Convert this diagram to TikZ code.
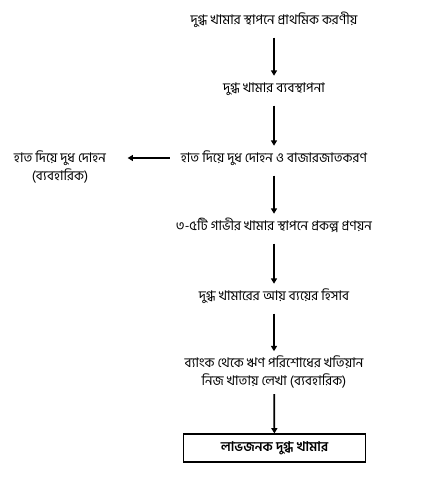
\documentclass[tikz,border=0pt]{standalone}
\usepackage{fontspec}
\newfontfamily\bangla[Script=Bengali]{Hind Siliguri}
\usepackage{tikz}
\usetikzlibrary{arrows.meta}
\tikzset{
    stage/.style={inner sep=0pt, text height=9pt, text depth=3pt, font=\bangla\fontsize{10}{14}\selectfont},
    notes/.style={inner sep=0pt, align=center, font=\bangla\fontsize{10}{14}\selectfont},
    flow/.style={-{Triangle[length=4pt,width=4.5pt]}, line width=1.3pt, shorten <=7pt, shorten >=3pt},
    goal/.style={draw, line width=0.8pt, minimum width=137pt, minimum height=21pt, inner sep=0pt, font=\bangla\bfseries\fontsize{10}{12}\selectfont}
}

\begin{document}
\begin{tikzpicture}[x=0.75pt, y=-0.75pt]
    % Page frame
    \useasboundingbox (0,0) rectangle (425,490);

    % Stages, top to bottom
    \node[stage] (setup) at (274,20) {দুগ্ধ খামার স্থাপনে প্রাথমিক করণীয়};
    \node[stage] (manage) at (274,88) {দুগ্ধ খামার ব্যবস্থাপনা};
    \node[stage] (milking) at (274,158) {হাত দিয়ে দুধ দোহন ও বাজারজাতকরণ};
    \node[stage] (project) at (274,226) {৩-৫টি গাভীর খামার স্থাপনে প্রকল্প প্রণয়ন};
    \node[stage] (account) at (274,296) {দুগ্ধ খামারের আয় ব্যয়ের হিসাব};
    \node[notes] (loan) at (274,372) {ব্যাংক থেকে ঋণ পরিশোধের খতিয়ান\\নিজ খাতায় লেখা (ব্যবহারিক)};

    % Side practical
    \node[notes] (handmilk) at (60,167) {হাত দিয়ে দুধ দোহন\\(ব্যবহারিক)};

    % Final box
    \node[goal] (profit) at (274.5,448) {লাভজনক দুগ্ধ খামার};

    % Arrows
    \draw[flow] (setup) -- (manage);
    \draw[flow] (manage) -- (milking);
    \draw[flow] (milking) -- (project);
    \draw[flow] (project) -- (account);
    \draw[flow] (account) -- (loan);
    \draw[flow, shorten <=4pt, shorten >=0pt] (loan) -- (profit);
    \draw[flow, shorten <=8pt, shorten >=16pt] (milking.west) -- (milking.west -| handmilk.east);
\end{tikzpicture}
\end{document}
